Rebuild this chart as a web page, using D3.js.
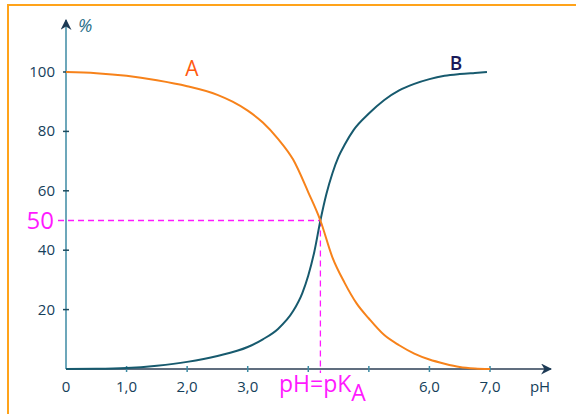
<!DOCTYPE html>
<html>
<head>
<meta charset="utf-8">
<script src="https://cdn.jsdelivr.net/npm/d3@7"></script>
<style>
body { margin: 0; background: #fff; }
svg { display: block; font-family: "Open Sans", "DejaVu Sans", sans-serif; }
</style>
</head>
<body>
<div id="chart"></div>
<script>
// curve A (acid form), % vs pH
var phA  = [0, 0.5, 1.0, 1.5, 2.0, 2.5, 2.75, 3.0, 3.25, 3.5, 3.75, 4.0, 4.2, 4.4, 4.6, 4.8, 5.0, 5.25, 5.5, 5.75, 6.0, 6.25, 6.5, 6.75, 7.0];
var valA = [100, 99.6, 98.7, 97.2, 95.2, 92.3, 90, 87, 83, 77.5, 70.5, 59.5, 50, 37.5, 29, 22, 17, 11.5, 8, 5.2, 3.2, 1.8, 0.7, 0.2, 0];
// curve B (base form)
var phB  = [0, 0.5, 1.0, 1.5, 2.0, 2.5, 3.0, 3.25, 3.5, 3.75, 3.9, 4.0, 4.1, 4.2, 4.3, 4.4, 4.5, 4.6, 4.75, 5.0, 5.25, 5.5, 5.75, 6.0, 6.25, 6.5, 6.75, 6.95];
var valB = [0, 0.05, 0.3, 1.1, 2.4, 4.4, 7.4, 10, 13.5, 19.5, 25.5, 31.5, 39.5, 50, 59, 66, 71.5, 75.5, 80.5, 86, 90.5, 93.8, 96, 97.6, 98.7, 99.3, 99.7, 100];
var yTicks = [20, 40, 60, 80, 100];
var xTicks = [0, 1, 2, 3, 4, 5, 6, 7];
var xTickLabels = ["0", "1,0", "2,0", "3,0", "", "", "6,0", "7,0"];
var pKa = 4.2;

var width = 576, height = 414;
var svg = d3.select("#chart").append("svg")
    .attr("width", width)
    .attr("height", height);

// orange frame
svg.append("rect")
    .attr("x", 8).attr("y", 5)
    .attr("width", 620).attr("height", 500)
    .attr("fill", "none")
    .attr("stroke", "#ffa31a")
    .attr("stroke-width", 2);

var x = d3.scaleLinear().domain([0, 7]).range([66, 490]);
var y = d3.scaleLinear().domain([0, 100]).range([369, 72]);

var defs = svg.append("defs");
defs.append("marker")
    .attr("id", "arrow")
    .attr("viewBox", "0 0 10 10")
    .attr("refX", 9).attr("refY", 5)
    .attr("markerWidth", 11).attr("markerHeight", 11)
    .attr("markerUnits", "userSpaceOnUse")
    .attr("orient", "auto")
  .append("path")
    .attr("d", "M0,0 L10,5 L0,10 L3,5 Z")
    .attr("fill", "#1d3a55");

// y axis
svg.append("line")
    .attr("x1", x(0)).attr("y1", y(0))
    .attr("x2", x(0)).attr("y2", 20)
    .attr("stroke", "#3c8aa3")
    .attr("stroke-width", 1.5)
    .attr("marker-end", "url(#arrow)");

svg.selectAll(".ytick").data(yTicks).enter().append("line")
    .attr("x1", x(0) - 3).attr("x2", x(0) + 3)
    .attr("y1", function(d) { return y(d); })
    .attr("y2", function(d) { return y(d); })
    .attr("stroke", "#1d4a5e")
    .attr("stroke-width", 1.5);

svg.selectAll(".ylab").data(yTicks).enter().append("text")
    .attr("x", 55)
    .attr("y", function(d) { return y(d) + 5; })
    .attr("text-anchor", "end")
    .attr("font-size", 15)
    .attr("fill", "#15405a")
    .text(function(d) { return d; });

svg.append("text")
    .attr("x", 78).attr("y", 32)
    .attr("font-size", 18)
    .attr("font-style", "italic")
    .attr("fill", "#2a6f8a")
    .text("%");

// x axis
svg.append("line")
    .attr("x1", x(0)).attr("y1", y(0))
    .attr("x2", 551).attr("y2", y(0))
    .attr("stroke", "#2b3e55")
    .attr("stroke-width", 1.5)
    .attr("marker-end", "url(#arrow)");

svg.selectAll(".xtick").data(xTicks.slice(1)).enter().append("line")
    .attr("x1", function(d) { return x(d); })
    .attr("x2", function(d) { return x(d); })
    .attr("y1", y(0) - 3).attr("y2", y(0) + 3)
    .attr("stroke", "#3c8aa3")
    .attr("stroke-width", 1.5);

svg.selectAll(".xlab").data(xTicks).enter().append("text")
    .attr("x", function(d) { return x(d); })
    .attr("y", 392)
    .attr("text-anchor", "middle")
    .attr("font-size", 15)
    .attr("fill", "#15405a")
    .text(function(d, i) { return xTickLabels[i]; });

svg.append("text")
    .attr("x", 540).attr("y", 392)
    .attr("text-anchor", "middle")
    .attr("font-size", 15)
    .attr("fill", "#15405a")
    .text("pH");

// dashed guides at 50 % / pKa
svg.append("line")
    .attr("x1", 58).attr("x2", x(pKa))
    .attr("y1", y(50)).attr("y2", y(50))
    .attr("stroke", "#ff1aff")
    .attr("stroke-width", 1.3)
    .attr("stroke-dasharray", "6,4");
svg.append("line")
    .attr("x1", x(pKa)).attr("x2", x(pKa))
    .attr("y1", y(50)).attr("y2", y(0) + 4)
    .attr("stroke", "#ff1aff")
    .attr("stroke-width", 1.3)
    .attr("stroke-dasharray", "6,4");

svg.append("text")
    .attr("x", 54).attr("y", y(50) + 8)
    .attr("text-anchor", "end")
    .attr("font-size", 24)
    .attr("fill", "#ff1aff")
    .text("50");

var pk = svg.append("text")
    .attr("x", 279).attr("y", 392)
    .attr("font-size", 23)
    .attr("fill", "#ff1aff");
pk.append("tspan").text("pH=pK");
pk.append("tspan").attr("dy", 9).text("A");

// curves
var line = d3.line()
    .x(function(d) { return x(d[0]); })
    .y(function(d) { return y(d[1]); })
    .curve(d3.curveMonotoneX);

svg.append("path")
    .datum(d3.zip(phB, valB))
    .attr("d", line)
    .attr("fill", "none")
    .attr("stroke", "#175a6e")
    .attr("stroke-width", 2);

svg.append("path")
    .datum(d3.zip(phA, valA))
    .attr("d", line)
    .attr("fill", "none")
    .attr("stroke", "#f7821a")
    .attr("stroke-width", 2);

svg.append("text")
    .attr("x", 192).attr("y", 76)
    .attr("text-anchor", "middle")
    .attr("font-size", 21)
    .attr("fill", "#ff5a10")
    .text("A");

svg.append("text")
    .attr("x", 456).attr("y", 70)
    .attr("text-anchor", "middle")
    .attr("font-size", 19)
    .attr("font-weight", 600)
    .attr("fill", "#1a1a5a")
    .text("B");
</script>
</body>
</html>
